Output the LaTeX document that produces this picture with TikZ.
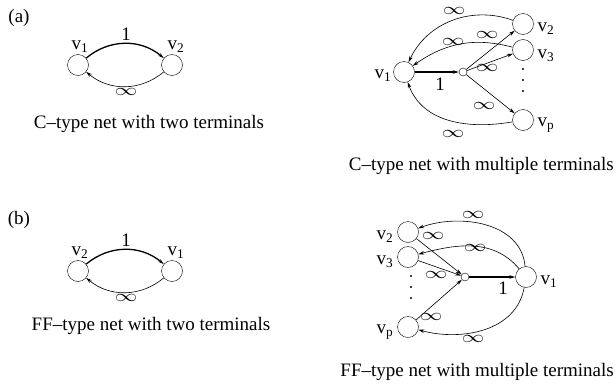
\documentclass[tikz,border=0pt]{standalone}
\usepackage{fontspec}
\setmainfont{Liberation Serif}
\usetikzlibrary{arrows.meta,positioning}
\newcommand{\wideinf}{\scalebox{1.3}[0.95]{$\infty$}}

\begin{document}
\begin{tikzpicture}[x=1pt,y=-1pt,
  txt/.style={font=\fontsize{19}{22}\selectfont,inner sep=0pt},
  term/.style={circle,draw,minimum size=21pt,inner sep=0pt},
  hub/.style={circle,draw,minimum size=8pt,inner sep=0pt},
  inf/.style={font=\fontsize{17}{20}\selectfont,inner sep=0pt},
  arc/.style={-{Stealth[length=6pt,width=3.5pt]},line width=0.6pt},
  unit/.style={arc,line width=1.3pt},
]
\useasboundingbox (0,0) rectangle (616,391);
% (a) C-type net, two terminals
\node[txt] (pa) at (19,18) {(a)};
\node[term] (a1) at (78,65) {};
\node[term] (a2) at (172,65) {};
\node[txt] (a1l) at (80,47) {v\textsubscript{1}};
\node[txt] (a2l) at (176,47) {v\textsubscript{2}};
\draw[unit] (a1) to[out=40,in=140] (a2);
\draw[arc] (a2) to[out=-140,in=-40] (a1);
\node[txt] (a12) at (126,34) {1};
\node[inf] (a21) at (126,92) {\wideinf};
\node[txt] (capa) at (149,124) {C--type net with two terminals};
% (a) C-type net, multiple terminals
\node[term] (c1) at (404,72) {};
\node[hub] (ch) at (463,72) {};
\node[term] (c2) at (523,24) {};
\node[term] (c3) at (523,50) {};
\node[term] (cp) at (523,120) {};
\foreach \y in {69,80,91}{
  \fill (523,\y) circle (1.1pt);
}
\node[txt] (c1l) at (383,76) {v\textsubscript{1}};
\node[txt] (c2l) at (546,29) {v\textsubscript{2}};
\node[txt] (c3l) at (546,56) {v\textsubscript{3}};
\node[txt] (cpl) at (546,125) {v\textsubscript{p}};
\draw[unit] (c1) -- (ch);
\foreach \t in {c2,c3,cp}{
  \draw[arc] (ch) -- (\t);
}
\draw[arc] (c2) to[out=160,in=65] (c1);
\draw[arc] (c3) to[out=165,in=35] (c1);
\draw[arc] (cp) to[out=190,in=-70] (c1);
\node[txt] (c1h) at (440,84) {1};
\node[inf] (ci2) at (454,11) {\wideinf};
\node[inf] (ci3) at (453,42) {\wideinf};
\node[inf] (ch2) at (487,35) {\wideinf};
\node[inf] (ch3) at (487,68) {\wideinf};
\node[inf] (chp) at (484,106) {\wideinf};
\node[inf] (cip) at (453,134) {\wideinf};
\node[txt,anchor=east] (capc) at (614,166) {C--type net with multiple terminals};
% (b) FF-type net, two terminals
\node[txt] (pb) at (19,220) {(b)};
\node[term] (b2) at (78,271) {};
\node[term] (b1) at (172,271) {};
\node[txt] (b2l) at (80,253) {v\textsubscript{2}};
\node[txt] (b1l) at (176,253) {v\textsubscript{1}};
\draw[unit] (b2) to[out=40,in=140] (b1);
\draw[arc] (b1) to[out=-140,in=-40] (b2);
\node[txt] (b21) at (126,240) {1};
\node[inf] (b12) at (126,298) {\wideinf};
\node[txt] (capb) at (151,326) {FF--type net with two terminals};
% (b) FF-type net, multiple terminals
\node[term] (d1) at (526,277) {};
\node[hub] (dh) at (465,277) {};
\node[term] (d2) at (408,232) {};
\node[term] (d3) at (408,257) {};
\node[term] (dp) at (408,327) {};
\foreach \y in {276,287,298}{
  \fill (411,\y) circle (1.1pt);
}
\node[txt] (d1l) at (549,282) {v\textsubscript{1}};
\node[txt] (d2l) at (385,237) {v\textsubscript{2}};
\node[txt] (d3l) at (385,262) {v\textsubscript{3}};
\node[txt] (dpl) at (385,332) {v\textsubscript{p}};
\draw[unit] (dh) -- (d1);
\foreach \s in {d2,d3,dp}{
  \draw[arc] (\s) -- (dh);
}
\draw[arc] (d1) to[out=95,in=20] (d2);
\draw[arc] (d1) to[out=130,in=15] (d3);
\draw[arc] (d1) to[out=-100,in=-15] (dp);
\node[txt] (dh1) at (503,288) {1};
\node[inf] (di2) at (473,215) {\wideinf};
\node[inf] (d2h) at (433,236) {\wideinf};
\node[inf] (di3) at (475,248) {\wideinf};
\node[inf] (d3h) at (436,275) {\wideinf};
\node[inf] (dph) at (431,317) {\wideinf};
\node[inf] (dip) at (473,339) {\wideinf};
\node[txt,anchor=east] (capd) at (614,372) {FF--type net with multiple terminals};
\end{tikzpicture}
\end{document}
